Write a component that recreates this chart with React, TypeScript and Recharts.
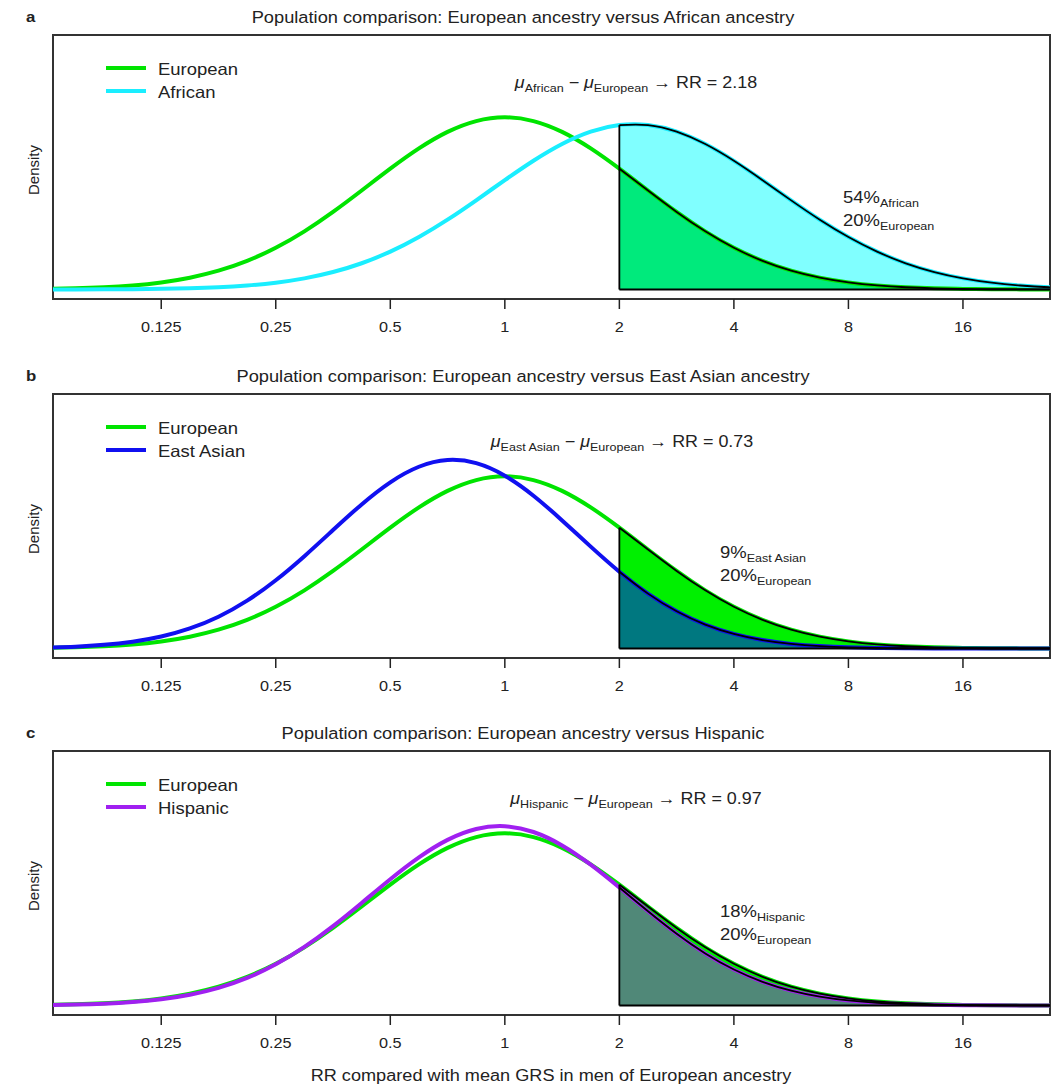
import React from 'react';
import { ComposedChart, Line, Area, XAxis, YAxis, ReferenceLine, ReferenceArea } from 'recharts';

// x positions: log2(RR)
const LOG2_RR = [-4, -3.75, -3.5, -3.25, -3, -2.75, -2.5, -2.25, -2, -1.75, -1.5, -1.25, -1, -0.75, -0.5, -0.25, 0, 0.25, 0.5, 0.75, 1, 1.25, 1.5, 1.75, 2, 2.25, 2.5, 2.75, 3, 3.25, 3.5, 3.75, 4, 4.25, 4.5, 4.75, 5];

// density values
const EUROPEAN = [0.00116, 0.0023, 0.00438, 0.00796, 0.01385, 0.02304, 0.03668, 0.05587, 0.08141, 0.11348, 0.15133, 0.19306, 0.23564, 0.27514, 0.30735, 0.32846, 0.33581, 0.32846, 0.30735, 0.27514, 0.23564, 0.19306, 0.15133, 0.11348, 0.08141, 0.05587, 0.03668, 0.02304, 0.01385, 0.00796, 0.00438, 0.0023, 0.00116, 0.00056, 0.00026, 0.00011, 0.00005];
const AFRICAN = [0.00006, 0.00014, 0.0003, 0.00063, 0.00125, 0.00241, 0.00443, 0.00785, 0.01334, 0.02175, 0.03406, 0.05121, 0.07391, 0.10242, 0.13625, 0.17401, 0.21335, 0.25113, 0.28378, 0.30787, 0.32065, 0.32061, 0.30777, 0.28363, 0.25094, 0.21314, 0.1738, 0.13606, 0.10225, 0.07378, 0.0511, 0.03398, 0.0217, 0.0133, 0.00782, 0.00442, 0.0024];
const EAST_ASIAN = [0.00175, 0.00363, 0.00712, 0.01325, 0.02338, 0.03912, 0.06206, 0.09336, 0.13317, 0.18013, 0.23105, 0.28101, 0.32409, 0.35442, 0.36754, 0.36142, 0.337, 0.29799, 0.24983, 0.19863, 0.14974, 0.10705, 0.07257, 0.04665, 0.02843, 0.01643, 0.00901, 0.00468, 0.00231, 0.00108, 0.00048, 0.0002, 0.00008, 0.00003, 0.00001, 0, 0];
const HISPANIC = [0.00085, 0.00178, 0.00355, 0.00673, 0.01216, 0.02096, 0.03442, 0.05387, 0.08036, 0.11426, 0.15484, 0.19998, 0.24617, 0.2888, 0.32293, 0.34415, 0.34955, 0.33838, 0.3122, 0.27454, 0.23008, 0.18378, 0.13991, 0.10152, 0.0702, 0.04627, 0.02906, 0.0174, 0.00993, 0.0054, 0.0028, 0.00138, 0.00065, 0.00029, 0.00013, 0.00005, 0.00002];

const TICK_VALUES = [-3, -2, -1, 0, 1, 2, 3, 4];
const TICK_LABELS = ['0.125', '0.25', '0.5', '1', '2', '4', '8', '16'];
const THRESHOLD = 1; // log2(RR = 2)

const PANEL_LETTERS = ['a', 'b', 'c'];
const GROUP_NAMES = ['African', 'East Asian', 'Hispanic'];
const GROUP_RR = ['2.18', '0.73', '0.97'];
const GROUP_PCT = ['54%', '9%', '18%'];
const EUROPEAN_PCT = '20%';

const X_DOMAIN: [number, number] = [-3.945, 4.76];
const Y_DOMAIN: [number, number] = [-0.0185, 0.4963];

const FONT = '"Liberation Sans", Arial, Helvetica, sans-serif';
const SX = 1.12;
const INK = '#222';
const EUR_COLOR = '#00e400';

const PANELS = [
  { values: AFRICAN, color: '#1aeeff', top: 0, otherFirst: true, otherFill: '#80ffff', otherOpacity: 1, eurFill: '#00ea7c', eurOpacity: 1, annoX: 636, pctX: 843, pctY: 198 },
  { values: EAST_ASIAN, color: '#1010f0', top: 359, otherFirst: false, otherFill: '#0000ff', otherOpacity: 0.5, eurFill: '#00f000', eurOpacity: 1, annoX: 622, pctX: 720, pctY: 194 },
  { values: HISPANIC, color: '#a020f0', top: 716, otherFirst: false, otherFill: '#a020f0', otherOpacity: 0.5, eurFill: '#00f000', eurOpacity: 1, annoX: 636, pctX: 720, pctY: 196 },
];

function SText({ x, y, size, anchor = 'start', weight, dy, children }: any) {
  return (
    <text
      transform={`translate(${x} ${y}) scale(${SX} 1)`}
      textAnchor={anchor}
      fontSize={size}
      fontWeight={weight}
      fontFamily={FONT}
      fill={INK}
      dy={dy}
    >
      {children}
    </text>
  );
}

function TickLabel(props: any) {
  const { x, y, payload } = props;
  const label = TICK_LABELS[TICK_VALUES.indexOf(payload.value)];
  return <SText x={x} y={y} size={14.5} anchor="middle" dy="0.71em">{label}</SText>;
}

function Panel({ idx }: { idx: number }) {
  const p = PANELS[idx];
  const rows = LOG2_RR.map((x, i) => ({
    x,
    eur: EUROPEAN[i],
    other: p.values[i],
    eurTail: x >= THRESHOLD ? EUROPEAN[i] : null,
    otherTail: x >= THRESHOLD ? p.values[i] : null,
  }));
  const ti = LOG2_RR.indexOf(THRESHOLD);
  const topAtThreshold = Math.max(EUROPEAN[ti], p.values[ti]);
  const eurArea = (
    <Area key="ea" dataKey="eurTail" type="natural" baseValue={0} fill={p.eurFill} fillOpacity={p.eurOpacity} stroke="none" isAnimationActive={false} dot={false} activeDot={false} />
  );
  const otherArea = (
    <Area key="oa" dataKey="otherTail" type="natural" baseValue={0} fill={p.otherFill} fillOpacity={p.otherOpacity} stroke="none" isAnimationActive={false} dot={false} activeDot={false} />
  );
  return (
    <div style={{ position: 'absolute', left: 0, top: p.top }}>
      <ComposedChart width={1060} height={345} data={rows} margin={{ top: 35, right: 10, bottom: 10, left: 53 }}>
        <XAxis
          type="number"
          dataKey="x"
          domain={X_DOMAIN}
          allowDataOverflow
          ticks={TICK_VALUES}
          interval={0}
          axisLine={false}
          tickSize={10}
          tickLine={{ stroke: INK, strokeWidth: 1.5 }}
          tick={<TickLabel />}
          tickMargin={13}
          height={36}
        />
        <YAxis hide type="number" domain={Y_DOMAIN} allowDataOverflow />
        {p.otherFirst ? otherArea : eurArea}
        {p.otherFirst ? eurArea : otherArea}
        <Line dataKey="eur" type="natural" stroke={EUR_COLOR} strokeWidth={4} dot={false} activeDot={false} isAnimationActive={false} />
        <Line dataKey="other" type="natural" stroke={p.color} strokeWidth={4} dot={false} activeDot={false} isAnimationActive={false} />
        <Line dataKey="eurTail" type="natural" stroke="#000" strokeWidth={1.8} dot={false} activeDot={false} isAnimationActive={false} />
        <Line dataKey="otherTail" type="natural" stroke="#000" strokeWidth={1.8} dot={false} activeDot={false} isAnimationActive={false} />
        <ReferenceLine segment={[{ x: THRESHOLD, y: 0 }, { x: THRESHOLD, y: topAtThreshold }]} stroke="#000" strokeWidth={1.8} ifOverflow="visible" />
        <ReferenceLine segment={[{ x: THRESHOLD, y: 0 }, { x: X_DOMAIN[1], y: 0 }]} stroke="#000" strokeWidth={1.8} ifOverflow="visible" />
        <ReferenceArea x1={X_DOMAIN[0]} x2={X_DOMAIN[1]} y1={Y_DOMAIN[0]} y2={Y_DOMAIN[1]} fill="none" fillOpacity={0} stroke="#333" strokeWidth={2} ifOverflow="visible" />
      </ComposedChart>
    </div>
  );
}

function PanelText({ idx }: { idx: number }) {
  const p = PANELS[idx];
  const off = p.top;
  const name = GROUP_NAMES[idx];
  const title = `Population comparison: European ancestry versus ${name === 'Hispanic' ? 'Hispanic' : name + ' ancestry'}`;
  return (
    <g>
      <SText x={26} y={off + 22} size={15} weight="bold">{PANEL_LETTERS[idx]}</SText>
      <SText x={523} y={off + 23} size={16.3} anchor="middle">{title}</SText>
      <text transform={`translate(39, ${off + 170}) rotate(-90)`} fontSize={15} textAnchor="middle" fontFamily={FONT} fill={INK}>Density</text>
      <line x1={106} x2={146} y1={off + 68} y2={off + 68} stroke={EUR_COLOR} strokeWidth={4} />
      <line x1={106} x2={146} y1={off + 91} y2={off + 91} stroke={p.color} strokeWidth={4} />
      <SText x={158} y={off + 75} size={16.5}>European</SText>
      <SText x={158} y={off + 98} size={16.5}>{name}</SText>
      <SText x={p.annoX} y={off + 88} size={16} anchor="middle">
        <tspan fontStyle="italic">μ</tspan>
        <tspan fontSize={11.2} dy={4}>{name}</tspan>
        <tspan dy={-4}>{' − '}</tspan>
        <tspan fontStyle="italic">μ</tspan>
        <tspan fontSize={11.2} dy={4}>European</tspan>
        <tspan dy={-4}>{` → RR = ${GROUP_RR[idx]}`}</tspan>
      </SText>
      <SText x={p.pctX} y={off + p.pctY + 5} size={16.5}>
        {GROUP_PCT[idx]}
        <tspan fontSize={11.2} dy={4}>{name}</tspan>
      </SText>
      <SText x={p.pctX} y={off + p.pctY + 28} size={16.5}>
        {EUROPEAN_PCT}
        <tspan fontSize={11.2} dy={4}>European</tspan>
      </SText>
    </g>
  );
}

export default function App() {
  return (
    <div style={{ position: 'absolute', left: 0, top: 0, width: 1060, height: 1084, background: '#fff', overflow: 'hidden' }}>
      <Panel idx={0} />
      <Panel idx={1} />
      <Panel idx={2} />
      <svg width={1060} height={1084} style={{ position: 'absolute', left: 0, top: 0, pointerEvents: 'none' }}>
        <PanelText idx={0} />
        <PanelText idx={1} />
        <PanelText idx={2} />
        <SText x={551} y={1081} size={16.2} anchor="middle">RR compared with mean GRS in men of European ancestry</SText>
      </svg>
    </div>
  );
}
